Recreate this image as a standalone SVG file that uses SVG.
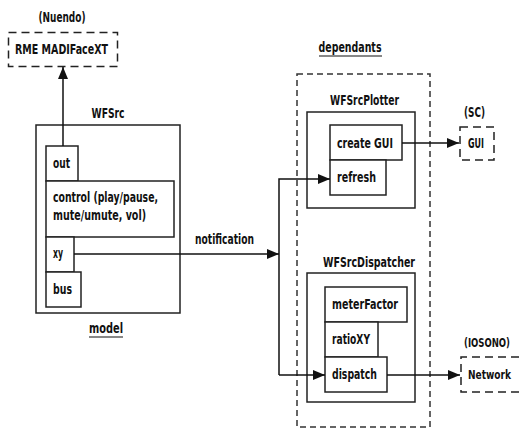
<svg xmlns="http://www.w3.org/2000/svg" width="520" height="428" viewBox="0 0 520 428">
<style>
text{font-family:"DejaVu Sans Condensed","DejaVu Sans","Liberation Sans",sans-serif;font-weight:bold;font-size:13.5px;fill:#111}
.c{text-anchor:middle}
.e{text-anchor:end}
.box{fill:#fff;stroke:#222;stroke-width:1.5}
.dash{fill:none;stroke:#222;stroke-width:1.5;stroke-dasharray:8,5}
.dash2{fill:none;stroke:#333;stroke-width:1.5;stroke-dasharray:6,4}
.ln{fill:none;stroke:#111;stroke-width:1.5}
.ul{stroke:#111;stroke-width:1.2}
</style>
<defs>
<marker id="ah" viewBox="0 0 12 10" refX="12" refY="5" markerWidth="12" markerHeight="10" markerUnits="userSpaceOnUse" orient="auto">
<path d="M0,0 L12,5 L0,10 z" fill="#111"/>
</marker>
</defs>

<g id="dependants">
<rect class="dash2" x="297" y="74" width="133" height="353"/>
<text class="c" x="350" y="52" textLength="63" lengthAdjust="spacingAndGlyphs">dependants</text>
<line class="ul" x1="319" y1="56" x2="382" y2="56"/>
</g>

<g id="rme">
<rect class="dash" x="8.5" y="32.5" width="109" height="34"/>
<text class="c" x="62" y="22" textLength="47" lengthAdjust="spacingAndGlyphs">(Nuendo)</text>
<text class="c" x="61.5" y="54" textLength="93" lengthAdjust="spacingAndGlyphs">RME MADIFaceXT</text>
</g>

<g id="wfsrc">
<rect class="box" x="36" y="125" width="144" height="188"/>
<text class="c" x="108" y="118" textLength="33" lengthAdjust="spacingAndGlyphs">WFSrc</text>
<rect class="box" x="46" y="146" width="32" height="35"/>
<text x="53" y="168" textLength="17" lengthAdjust="spacingAndGlyphs">out</text>
<rect class="box" x="46" y="181" width="128" height="56"/>
<text x="53" y="202" textLength="105" lengthAdjust="spacingAndGlyphs">control (play/pause,</text>
<text x="53" y="220" textLength="93" lengthAdjust="spacingAndGlyphs">mute/umute, vol)</text>
<rect class="box" x="46" y="237" width="28" height="35"/>
<text x="53" y="258" textLength="10" lengthAdjust="spacingAndGlyphs">xy</text>
<rect class="box" x="46" y="272" width="35" height="35"/>
<text x="53" y="294" textLength="19" lengthAdjust="spacingAndGlyphs">bus</text>
<text class="c" x="106" y="333" textLength="34" lengthAdjust="spacingAndGlyphs">model</text>
<line class="ul" x1="89" y1="337" x2="123" y2="337"/>
</g>

<g id="plotter">
<rect class="box" x="307" y="112" width="108" height="96"/>
<text class="c" x="364.5" y="105" textLength="69" lengthAdjust="spacingAndGlyphs">WFSrcPlotter</text>
<rect class="box" x="330" y="125" width="72" height="35"/>
<text x="337" y="148" textLength="56" lengthAdjust="spacingAndGlyphs">create GUI</text>
<rect class="box" x="330" y="160" width="56" height="35"/>
<text x="337" y="182" textLength="39" lengthAdjust="spacingAndGlyphs">refresh</text>
</g>

<g id="gui">
<rect class="dash" x="460" y="127" width="34" height="33" stroke-dasharray="6,4"/>
<text class="c" x="474.5" y="117" textLength="21" lengthAdjust="spacingAndGlyphs">(SC)</text>
<text class="c" x="476" y="148" textLength="16" lengthAdjust="spacingAndGlyphs">GUI</text>
</g>

<g id="dispatcher">
<rect class="box" x="307" y="273" width="108" height="129"/>
<text class="c" x="369" y="267" textLength="92" lengthAdjust="spacingAndGlyphs">WFSrcDispatcher</text>
<rect class="box" x="325" y="287" width="82" height="35"/>
<text x="332" y="309" textLength="66" lengthAdjust="spacingAndGlyphs">meterFactor</text>
<rect class="box" x="325" y="322" width="53" height="35"/>
<text x="332" y="344" textLength="38" lengthAdjust="spacingAndGlyphs">ratioXY</text>
<rect class="box" x="325" y="357" width="62" height="35"/>
<text x="332" y="379" textLength="45" lengthAdjust="spacingAndGlyphs">dispatch</text>
</g>

<g id="network">
<path class="dash" d="M519,357 H461 V392 H519"/>
<text class="e" x="510" y="347" textLength="46" lengthAdjust="spacingAndGlyphs" style="font-size:12px">(IOSONO)</text>
<text class="e" x="511" y="379" textLength="43" lengthAdjust="spacingAndGlyphs" style="font-size:12.5px">Network</text>
</g>

<g id="connectors">
<line class="ln" x1="63" y1="146" x2="63" y2="67" marker-end="url(#ah)"/>
<line class="ln" x1="74" y1="254" x2="279" y2="254" marker-end="url(#ah)"/>
<text class="c" x="224.5" y="244" textLength="59" lengthAdjust="spacingAndGlyphs">notification</text>
<polyline class="ln" points="279,375 279,179 330,179" marker-end="url(#ah)"/>
<line class="ln" x1="279" y1="375" x2="325" y2="375" marker-end="url(#ah)"/>
<line class="ln" x1="402" y1="143" x2="459" y2="143" marker-end="url(#ah)"/>
<line class="ln" x1="387" y1="375" x2="460" y2="375" marker-end="url(#ah)"/>
</g>
</svg>
